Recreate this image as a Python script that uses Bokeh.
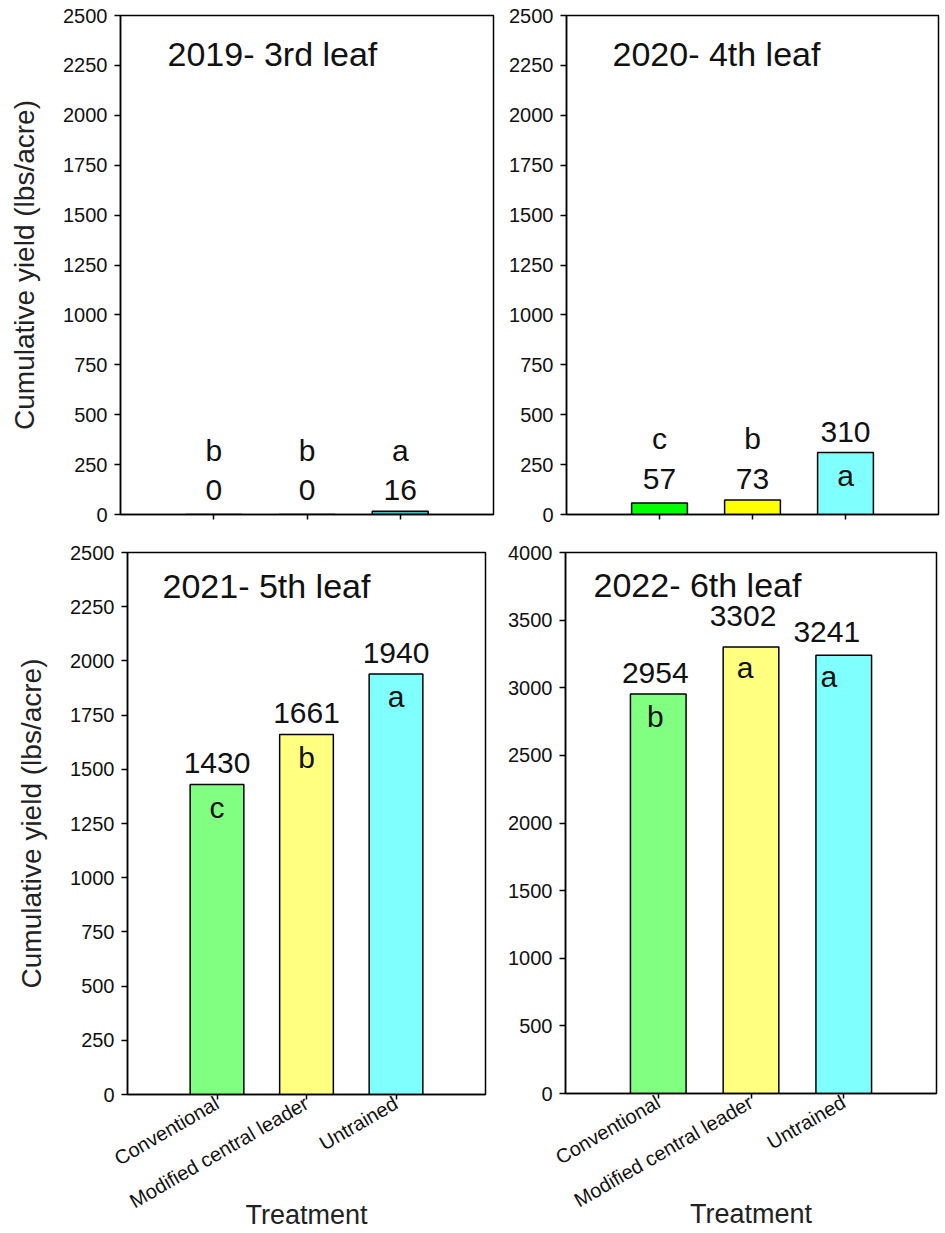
from bokeh.plotting import figure
from bokeh.layouts import column, row
from bokeh.models import ColumnDataSource, FactorRange, Range1d, FixedTicker, Label
from bokeh.embed import file_html
from bokeh.resources import INLINE
from bokeh.core.properties import value
import math

# ---------------- data ----------------
treatments = ["Conventional", "Modified central leader", "Untrained"]

titles = ["2019- 3rd leaf", "2020- 4th leaf", "2021- 5th leaf", "2022- 6th leaf"]

yield_2019 = [0, 0, 16]
yield_2020 = [57, 73, 310]
yield_2021 = [1430, 1661, 1940]
yield_2022 = [2954, 3302, 3241]

letters_2019 = ["b", "b", "a"]
letters_2020 = ["c", "b", "a"]
letters_2021 = ["c", "b", "a"]
letters_2022 = ["b", "a", "a"]

colors_2019 = ["#00ff00", "#ffff00", "#2ec4c4"]
colors_2020 = ["#00ff00", "#ffff00", "#80ffff"]
colors_2021 = ["#80ff80", "#ffff80", "#80ffff"]
colors_2022 = ["#80ff80", "#ffff80", "#80ffff"]

y_max = [2500, 2500, 2500, 4000]
y_step = [250, 250, 250, 500]

y_label = "Cumulative yield (lbs/acre)"
x_label = "Treatment"

FONT = "Liberation Sans"
TXT = "#111111"


def panel(title, vals, letters, colors, ymax, ystep, geom, title_pos,
          show_ylabel, show_xlabels, num_nudge=None, let_nudge=None):
    bl, fw, br, bt, fh, bb = geom
    p = figure(title=None,
               x_range=FactorRange(*treatments, range_padding=1 / 3),
               y_range=Range1d(0, ymax),
               frame_width=fw, frame_height=fh,
               min_border_left=bl, min_border_right=br,
               min_border_top=bt, min_border_bottom=bb,
               output_backend="svg", toolbar_location=None, tools="")
    p.background_fill_color = "white"
    p.border_fill_color = "white"
    p.outline_line_color = "black"
    p.outline_line_width = 1.5
    p.xgrid.grid_line_color = None
    p.ygrid.grid_line_color = None

    # y axis
    p.yaxis.ticker = FixedTicker(ticks=list(range(0, ymax + 1, ystep)))
    p.yaxis.minor_tick_line_color = None
    p.yaxis.major_tick_out = 6
    p.yaxis.major_tick_in = 0
    p.yaxis.major_tick_line_width = 1.5
    p.yaxis.axis_line_width = 1.5
    p.yaxis.axis_line_color = "black"
    p.yaxis.major_label_standoff = 7
    p.yaxis.major_label_text_font = FONT
    p.yaxis.major_label_text_font_size = "20px"
    p.yaxis.major_label_text_color = TXT
    if show_ylabel:
        p.yaxis.axis_label = y_label
        p.yaxis.axis_label_text_font = FONT
        p.yaxis.axis_label_text_font_size = "28px"
        p.yaxis.axis_label_text_font_style = "normal"
        p.yaxis.axis_label_text_color = "#222222"
        p.yaxis.axis_label_standoff = 20

    # x axis
    p.xaxis.major_tick_out = 5
    p.xaxis.major_tick_in = 0
    p.xaxis.major_tick_line_width = 1.5
    p.xaxis.axis_line_width = 1.5
    p.xaxis.axis_line_color = "black"
    p.xaxis.minor_tick_line_color = None
    if show_xlabels:
        p.xaxis.major_label_orientation = math.pi / 6
        p.xaxis.major_label_text_font = FONT
        p.xaxis.major_label_text_font_size = "20px"
        p.xaxis.major_label_text_color = TXT
        p.xaxis.major_label_standoff = 2
        p.xaxis.axis_label = x_label
        p.xaxis.axis_label_text_font = FONT
        p.xaxis.axis_label_text_font_size = "27px"
        p.xaxis.axis_label_text_font_style = "normal"
        p.xaxis.axis_label_text_color = "#222222"
        p.xaxis.axis_label_standoff = -25
    else:
        # top panels show tick marks only
        p.xaxis.major_label_text_color = None
        p.xaxis.major_label_text_font_size = "0px"
        p.xaxis.major_label_standoff = 0

    # bars
    src = ColumnDataSource(dict(x=treatments, top=vals, color=colors))
    p.vbar(x="x", top="top", width=0.6, fill_color="color",
           line_color="black", line_width=1.5, source=src)

    # value and letter annotations
    n = len(vals)
    num_nudge = num_nudge or [(0, 0)] * n
    let_nudge = let_nudge or [(0, 0)] * n
    px = fh / ymax
    tall = [v * px > 40 for v in vals]
    short = [v for v, t in zip(vals, tall) if not t]
    short_top = max(short) if short else 0
    num_y = [v if t else short_top for v, t in zip(vals, tall)]
    let_y = [v if t else short_top for v, t in zip(vals, tall)]
    num_off = [-21 + d[1] for d in num_nudge]
    let_off = [(23 if t else -61) + d[1] for t, d in zip(tall, let_nudge)]
    lab = ColumnDataSource(dict(x=treatments, ny=num_y, ly=let_y,
                                num=[str(v) for v in vals], let=letters,
                                noff=num_off, loff=let_off,
                                nx=[d[0] for d in num_nudge],
                                lx=[d[0] for d in let_nudge]))
    p.text(x="x", y="ny", text="num", source=lab, y_offset="noff", x_offset="nx",
           text_align="center", text_baseline="middle",
           text_font=value(FONT), text_font_size="30px", text_color=TXT)
    p.text(x="x", y="ly", text="let", source=lab, y_offset="loff", x_offset="lx",
           text_align="center", text_baseline="middle",
           text_font=value(FONT), text_font_size="30px", text_color=TXT)

    tx, ty = title_pos
    p.add_layout(Label(x=tx, y=fh - ty, x_units="screen", y_units="screen",
                       text=title, text_baseline="middle", text_align="left",
                       text_font=FONT, text_font_size="34px", text_color=TXT))
    return p


p1 = panel(titles[0], yield_2019, letters_2019, colors_2019, y_max[0], y_step[0],
           (120, 373, 7, 15, 499, 16), (47, 38), True, False)
p2 = panel(titles[1], yield_2020, letters_2020, colors_2020, y_max[1], y_step[1],
           (66, 372, 7, 15, 499, 16), (46, 38), False, False)
p3 = panel(titles[2], yield_2021, letters_2021, colors_2021, y_max[2], y_step[2],
           (127, 358, 15, 22, 542, 139), (35, 33), True, True)
p4 = panel(titles[3], yield_2022, letters_2022, colors_2022, y_max[3], y_step[3],
           (65, 371, 9, 15, 541, 147), (28, 32), False, True,
           num_nudge=[(-3, 0), (-8, -10), (-17, -2)],
           let_nudge=[(-3, 0), (-6, -2), (-15, -2)])

layout = column(row(p1, p2), row(p3, p4))

open("out.html", "w").write(file_html(layout, INLINE))
